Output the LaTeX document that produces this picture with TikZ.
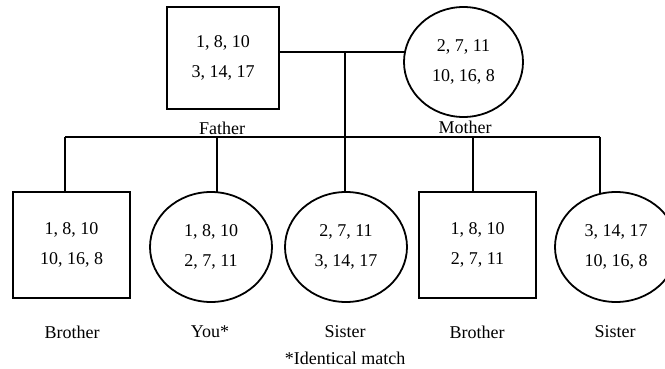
\documentclass[tikz,border=0pt]{standalone}
\usepackage{fontspec}
\setmainfont{Liberation Serif}
\usetikzlibrary{shapes.geometric,backgrounds}
\begin{document}
\begin{tikzpicture}[x=0.5pt,y=-0.5pt,
  line width=0.9pt,
  conn/.style={draw, line width=0.9pt},
  txt/.style={font=\fontsize{9}{15}\selectfont, align=center, inner sep=0pt, fill=white},
  sqbox/.style={txt, draw, rectangle, minimum width=58.5pt, minimum height=53pt},
  ovbox/.style={txt, draw, ellipse, minimum width=61pt, minimum height=55pt},
  lbl/.style={font=\fontsize{9}{11}\selectfont, inner sep=0pt}]
\useasboundingbox (0,0) rectangle (665,369);
% parents
\node[sqbox, minimum width=56pt, minimum height=51pt] (father) at (223,58) {1, 8, 10\\3, 14, 17};
\node[ovbox, minimum width=59.5pt, minimum height=55pt] (mother) at (463.5,62) {2, 7, 11\\10, 16, 8};
\node[lbl] (lfather) at (222,128) {Father};
\node[lbl] (lmother) at (465,127) {Mother};
% children
\node[sqbox] (b1) at (71.5,245) {1, 8, 10\\10, 16, 8};
\node[ovbox] (you) at (211,247) {1, 8, 10\\2, 7, 11};
\node[ovbox] (s1) at (346,247) {2, 7, 11\\3, 14, 17};
\node[sqbox] (b2) at (477.5,245) {1, 8, 10\\2, 7, 11};
\node[ovbox] (s2) at (616,247) {3, 14, 17\\10, 16, 8};
\node[lbl] (lb1) at (72,332) {Brother};
\node[lbl] (lyou) at (210,332) {You*};
\node[lbl] (ls1) at (345,332) {Sister};
\node[lbl] (lb2) at (477,332) {Brother};
\node[lbl] (ls2) at (615,332) {Sister};
\node[lbl] (note) at (345,358) {*Identical match};
% connectors (behind the white-filled shapes)
\coordinate (m) at (345,52);
\coordinate (sib) at (345,137);
\coordinate (d1) at (65,137);
\coordinate (d2) at (217,137);
\coordinate (d4) at (473,137);
\coordinate (d5) at (600,137);
\begin{pgfonlayer}{background}
\path[conn] (father.center |- m) -- (mother.center |- m);
\path[conn] (m) -- (sib);
\path[conn] (d1) -- (d5);
\path[conn] (d1) -- (d1 |- b1.center);
\path[conn] (d2) -- (d2 |- you.center);
\path[conn] (sib) -- (sib |- s1.center);
\path[conn] (d4) -- (d4 |- b2.center);
\path[conn] (d5) -- (d5 |- s2.center);
\end{pgfonlayer}
\end{tikzpicture}
\end{document}
